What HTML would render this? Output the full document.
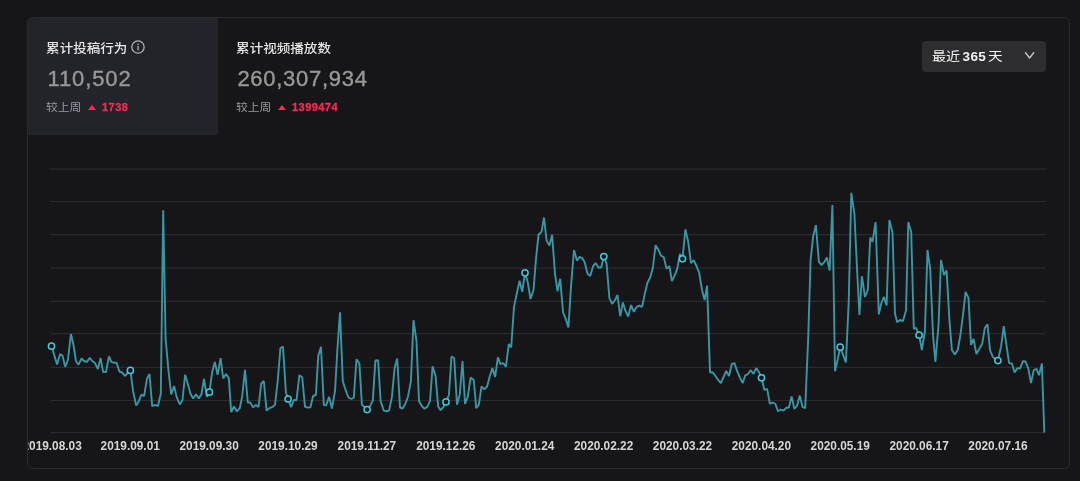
<!DOCTYPE html>
<html lang="zh-CN">
<head>
<meta charset="utf-8">
<title>数据概览</title>
<style>
*{box-sizing:border-box;margin:0;padding:0}
html,body{width:1080px;height:481px;overflow:hidden;background:#161618}
body{font-family:"Liberation Sans","Noto Sans CJK SC",sans-serif;color:#e0e0e0;position:relative}
.card{position:absolute;left:27px;top:17px;width:1043px;height:452px;border:1px solid #2b2b2e;border-radius:5.5px;background:#161619;overflow:hidden}
.tab{position:absolute;top:0;height:117px}
.tab.on{left:0;width:190px;background:#232429}
.tab.t2{left:190px;width:220px}
.tab .t{position:absolute;left:18.1px;top:22.1px;font-size:13.55px;line-height:18px;color:#e6e6e6;white-space:nowrap;font-weight:500}
.cj{display:inline-block;transform:scaleY(.91);transform-origin:50% 55%}
.tab .n{position:absolute;left:19.4px;top:47.8px;font-size:22px;line-height:26px;color:#989898;white-space:nowrap;letter-spacing:.9px;-webkit-text-stroke:.4px #989898}
.tab .c{position:absolute;left:18px;top:81px;font-size:11.8px;line-height:16px;color:#9a9a9a;white-space:nowrap}
.tab .c b{color:#f52d51;font-weight:700;font-size:11px;letter-spacing:.45px;-webkit-text-stroke:.3px #f52d51;position:absolute;left:56px;top:.3px}
.tab .c i{position:absolute;left:41.7px;top:6.2px;width:0;height:0;border-left:4.2px solid transparent;border-right:4.2px solid transparent;border-bottom:5.4px solid #f52d51}
.info{position:absolute;left:103px;top:22.35px;width:14px;height:14px}
.sel{position:absolute;left:894px;top:23px;width:124.3px;height:30.5px;background:#2d2d2f;border-radius:4px;font-size:13.5px;line-height:30.5px;color:#f2f2f2;white-space:nowrap}
.sel .cj,.sel b{position:absolute;top:1px}
.sel .cj{transform:scale(1.04,.91);transform-origin:0 55%}
.sel .a{left:10.2px}
.sel b{font-weight:700;font-size:13.5px;left:40.5px;letter-spacing:.4px}
.sel .c{left:66.2px;transform:scale(1.09,.91)}
.sel svg{position:absolute;left:102.3px;top:10px}
.tab.t2 .n{letter-spacing:.72px}
svg.chart{position:absolute;left:-28px;top:-18px}
svg.chart .g line{stroke:#2b2b2e;stroke-width:1.2}
svg.chart polyline{fill:none;stroke:#3b96a4;stroke-width:1.9;stroke-linejoin:bevel;stroke-linecap:butt}
svg.chart .m circle{fill:#141416;stroke:#44c8dc;stroke-width:1.5}
svg.chart text{font-family:"Liberation Sans",sans-serif;font-weight:700;font-size:11.85px;fill:#d6d6d6;text-anchor:middle}
</style>
</head>
<body>
<div class="card">
  <svg class="chart" width="1080" height="481" viewBox="0 0 1080 481">
    <g class="g"><line x1="50.5" x2="1045.5" y1="169.08" y2="169.08"/><line x1="50.5" x2="1045.5" y1="201.50" y2="201.50"/><line x1="50.5" x2="1045.5" y1="234.54" y2="234.54"/><line x1="50.5" x2="1045.5" y1="268.10" y2="268.10"/><line x1="50.5" x2="1045.5" y1="301.46" y2="301.46"/><line x1="50.5" x2="1045.5" y1="333.70" y2="333.70"/><line x1="50.5" x2="1045.5" y1="367.40" y2="367.40"/><line x1="50.5" x2="1045.5" y1="400.50" y2="400.50"/><line x1="50.5" x2="1045.5" y1="432.65" y2="432.65"/></g>
    <polyline points="51.5,346.2 57.1,364.4 60.0,354.0 62.5,355.6 65.2,366.9 67.9,360.0 70.9,334.0 73.5,345.0 76.0,361.2 78.5,364.6 81.6,358.5 84.0,361.0 86.9,361.9 89.8,357.9 92.2,361.0 95.0,363.1 97.9,369.0 100.6,358.1 103.1,372.1 106.0,372.1 108.9,356.5 111.4,361.9 114.0,362.8 116.6,362.8 119.4,371.5 122.1,372.5 125.2,376.0 127.8,372.5 130.4,370.5 133.1,391.2 136.2,405.6 138.8,401.2 141.5,394.5 144.1,396.2 146.9,378.8 149.5,374.0 152.2,406.2 155.0,404.8 157.9,406.0 160.8,393.8 163.2,210.2 165.6,338.8 168.6,372.0 171.2,394.4 174.1,386.0 176.6,396.9 179.8,404.4 182.5,400.0 185.1,374.8 187.8,383.8 190.4,393.5 193.1,398.5 196.0,394.4 198.8,398.5 201.5,394.0 204.0,379.0 206.9,396.9 209.4,392.2 212.1,372.5 214.8,361.9 217.6,374.8 220.6,358.1 223.2,378.5 226.0,374.0 228.8,378.1 231.2,412.2 234.0,406.5 236.9,411.5 239.8,408.1 242.2,396.2 245.0,369.8 247.8,402.5 250.2,402.5 253.1,407.2 255.9,405.0 258.5,406.9 261.2,383.5 263.8,381.0 266.6,410.6 269.4,408.1 272.1,407.2 275.0,404.8 277.8,380.0 280.4,348.0 283.0,346.5 285.9,392.5 288.1,399.0 291.1,407.2 293.8,400.0 296.5,400.2 299.4,375.2 302.2,377.2 305.0,406.9 307.8,407.5 310.4,407.2 313.1,396.0 315.9,395.0 318.2,356.1 321.0,346.8 323.8,405.0 326.2,405.2 329.1,396.9 331.9,408.5 335.0,391.2 337.4,349.2 340.0,312.4 342.8,381.2 345.6,390.0 348.5,397.5 351.2,399.0 353.8,397.8 356.5,359.2 359.4,363.6 361.9,404.8 364.4,406.9 367.1,409.6 370.0,406.2 372.8,400.6 375.4,360.5 378.1,360.2 380.6,401.2 383.8,410.6 386.5,411.2 389.1,410.6 391.9,396.9 394.6,368.1 397.2,358.6 400.0,407.5 402.6,408.5 405.4,403.8 408.1,396.2 410.9,381.2 413.5,320.2 416.5,341.1 419.0,401.2 421.8,406.0 424.5,408.8 427.2,406.9 430.0,401.2 432.6,366.2 435.6,376.2 438.1,406.2 440.6,410.2 443.5,406.9 446.0,401.9 448.9,395.0 451.5,356.5 454.2,358.0 457.0,404.8 459.8,394.4 462.5,361.1 465.0,404.0 467.9,396.2 470.6,377.5 473.8,380.0 476.2,408.1 478.8,405.0 481.5,386.5 484.4,389.4 487.1,386.5 489.8,376.2 492.5,368.1 495.1,376.9 497.9,357.4 500.4,364.2 503.1,363.0 505.9,366.8 508.8,344.0 511.2,347.5 514.0,306.9 516.9,293.1 519.6,280.6 522.2,291.9 525.0,272.8 527.8,282.5 530.5,299.0 533.5,290.0 536.0,258.8 538.5,234.8 541.5,231.9 544.0,217.5 546.6,240.6 549.4,245.6 552.1,234.8 555.0,273.8 557.5,291.2 560.2,278.8 563.1,312.5 565.9,319.4 568.4,327.5 571.2,283.8 574.0,250.0 576.9,260.6 579.6,256.9 582.2,258.1 584.8,262.5 587.5,273.8 590.2,276.0 593.1,266.2 595.6,263.1 598.5,267.5 601.2,267.5 603.8,256.6 606.6,263.8 609.4,298.1 612.1,303.8 615.0,300.0 617.5,295.0 620.2,316.2 622.9,302.5 625.6,311.2 628.2,316.5 631.1,305.0 633.9,311.9 636.6,306.9 639.4,305.6 642.1,306.9 644.8,293.8 647.5,282.5 650.2,277.5 652.9,267.5 655.6,245.2 658.1,249.4 661.0,255.6 663.8,257.2 666.5,268.8 669.4,266.2 671.9,281.2 674.6,275.6 677.2,268.8 680.0,253.8 682.5,258.8 685.4,229.4 688.1,241.2 691.0,263.1 693.8,260.2 696.5,266.2 699.1,272.5 701.9,289.4 704.6,300.0 707.1,285.6 710.0,372.5 712.6,372.2 715.4,376.0 718.1,379.8 720.9,383.1 723.6,376.9 726.2,371.0 729.0,376.0 731.8,364.0 734.5,363.1 737.2,371.2 740.0,377.8 742.6,383.1 745.2,375.6 748.0,374.0 750.6,370.2 753.5,373.8 756.2,368.1 759.0,372.2 761.5,377.8 764.4,390.0 767.1,388.8 769.9,403.8 772.6,402.5 775.4,404.0 778.0,411.2 780.8,409.6 783.5,410.6 786.2,407.8 788.9,407.5 791.6,396.5 794.4,409.0 797.1,405.6 799.8,395.6 802.5,406.9 805.2,408.1 808.2,338.0 810.6,260.0 813.2,236.0 815.9,225.2 818.9,261.9 821.5,265.0 824.2,262.2 826.9,257.5 829.6,270.6 832.4,205.0 835.0,371.2 837.8,359.0 840.2,347.2 843.1,355.0 845.9,362.5 848.7,302.0 851.3,192.8 854.4,213.8 857.0,268.0 859.4,315.0 861.9,276.2 865.0,297.0 867.8,290.0 870.2,237.5 872.5,241.9 875.6,222.2 878.8,314.4 881.4,303.0 884.0,296.9 886.6,305.6 889.4,220.0 892.5,232.5 895.0,313.8 897.2,322.2 900.0,320.0 902.9,321.2 906.0,310.6 908.3,221.9 911.2,231.9 913.8,328.8 916.2,327.8 919.1,335.2 921.9,350.0 924.9,331.2 927.5,250.0 930.2,268.8 933.1,336.2 935.4,361.9 938.6,323.8 941.0,260.0 944.0,275.0 946.6,270.6 949.5,321.2 951.9,350.0 954.8,354.4 957.8,350.0 960.4,335.0 963.0,315.0 965.6,291.9 968.5,298.1 971.0,345.0 973.5,338.8 976.4,354.0 979.4,348.8 982.2,343.8 984.8,328.1 987.5,324.4 990.0,350.0 992.8,356.9 995.4,359.4 997.9,360.6 1001.1,346.2 1003.8,326.2 1006.5,345.6 1009.1,363.1 1011.9,363.5 1014.6,372.5 1017.4,368.1 1020.1,368.5 1022.9,361.2 1025.6,361.5 1028.4,368.8 1031.0,383.1 1033.8,370.0 1036.5,368.8 1039.0,375.2 1041.9,363.5 1044.3,432.5"/>
    <g class="m"><circle cx="51.5" cy="346.2" r="3.1"/><circle cx="130.4" cy="370.4" r="3.1"/><circle cx="209.4" cy="392.2" r="3.1"/><circle cx="288.1" cy="399.0" r="3.1"/><circle cx="367.1" cy="409.6" r="3.1"/><circle cx="446.0" cy="401.9" r="3.1"/><circle cx="525.0" cy="272.8" r="3.1"/><circle cx="603.8" cy="256.6" r="3.1"/><circle cx="682.5" cy="258.8" r="3.1"/><circle cx="761.5" cy="377.8" r="3.1"/><circle cx="840.2" cy="347.2" r="3.1"/><circle cx="919.1" cy="335.2" r="3.1"/><circle cx="997.9" cy="360.6" r="3.1"/></g>
    <g class="l"><text x="52.1" y="449.6">2019.08.03</text><text x="130.2" y="449.6">2019.09.01</text><text x="209.1" y="449.6">2019.09.30</text><text x="288.0" y="449.6">2019.10.29</text><text x="366.9" y="449.6">2019.11.27</text><text x="445.8" y="449.6">2019.12.26</text><text x="524.7" y="449.6">2020.01.24</text><text x="603.6" y="449.6">2020.02.22</text><text x="682.5" y="449.6">2020.03.22</text><text x="761.4" y="449.6">2020.04.20</text><text x="840.2" y="449.6">2020.05.19</text><text x="919.1" y="449.6">2020.06.17</text><text x="998.0" y="449.6">2020.07.16</text></g>
  </svg>
  <div class="tab on">
    <div class="t"><span class="cj">累计投稿行为</span></div>
    <svg class="info" viewBox="0 0 14 14"><circle cx="7" cy="7" r="6.15" fill="none" stroke="#b2b2b2" stroke-width="1.3"/><rect x="6.35" y="5.8" width="1.4" height="4.6" fill="#a8a8a8"/><rect x="6.35" y="3.5" width="1.4" height="1.4" fill="#a8a8a8"/></svg>
    <div class="n">110,502</div>
    <div class="c"><span class="cj">较上周</span><i></i><b>1738</b></div>
  </div>
  <div class="tab t2">
    <div class="t"><span class="cj">累计视频播放数</span></div>
    <div class="n">260,307,934</div>
    <div class="c"><span class="cj">较上周</span><i></i><b>1399474</b></div>
  </div>
  <div class="sel"><span class="cj a">最近</span> <b>365</b> <span class="cj c">天</span><svg width="11" height="8" viewBox="0 0 11 8"><path d="M1.5 1.8 L5.6 7 L9.7 1.8" fill="none" stroke="#c4c4c4" stroke-width="1.4" stroke-linecap="round" stroke-linejoin="round"/></svg></div>
</div>
</body>
</html>
